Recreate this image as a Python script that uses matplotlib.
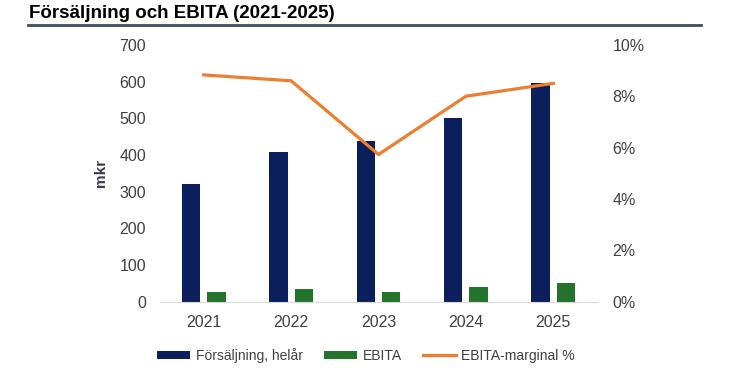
import matplotlib.pyplot as plt
import numpy as np
from matplotlib.lines import Line2D

plt.rcParams['font.family'] = ['Liberation Sans', 'DejaVu Sans']

years = ['2021', '2022', '2023', '2024', '2025']
forsaljning = [320, 409, 439, 500, 596]
ebita = [27, 34, 25, 40, 50]
marginal = [8.83, 8.6, 5.73, 8.0, 8.5]

navy = '#0a1f5c'
green = '#23732c'
orange = '#ed7d31'
txt = '#404040'

fig = plt.figure(figsize=(7.32, 3.77), dpi=100)
ax = fig.add_axes([0.2186, 0.2, 0.597, 0.681])
ax2 = ax.twinx()

x = np.arange(len(years))
w = 0.21
b1 = ax.bar(x - 0.145, forsaljning, w, color=navy, label='Försäljning, helår')
b2 = ax.bar(x + 0.145, ebita, w, color=green, label='EBITA')
ax2.plot(x, marginal, color=orange, lw=2.3, label='EBITA-marginal %')

ax.set_xlim(-0.5, 4.5)
ax.set_ylim(0, 700)
ax.set_yticks(range(0, 701, 100))
ax2.set_ylim(0, 10)
ax2.set_yticks(range(0, 11, 2))
ax2.set_yticklabels([f'{v}%' for v in range(0, 11, 2)])
ax.set_xticks(x)
ax.set_xticklabels(years)

for a in (ax, ax2):
    for s in a.spines.values():
        s.set_visible(False)
    a.tick_params(length=0, labelsize=11.5, colors=txt)
ax.spines['bottom'].set_visible(True)
ax.spines['bottom'].set_color('#d9d9d9')
ax.tick_params(axis='y', pad=10)
ax.tick_params(axis='x', pad=10)
ax2.tick_params(axis='y', pad=11)

ax.set_ylabel('mkr', fontsize=11, fontweight='bold', color='#333f50', labelpad=8)

fig.text(0.04, 0.965, 'Försäljning och EBITA (2021-2025)', fontsize=13.5,
         fontweight='bold', va='center', ha='left', color='black')
fig.add_artist(Line2D([0.038, 0.958], [0.933, 0.933], color='#3d4d59', lw=2))

handles = [b1, b2, Line2D([], [], color=orange, lw=2.3)]
labels = ['Försäljning, helår', 'EBITA', 'EBITA-marginal %']
fig.legend(handles, labels, loc='center', bbox_to_anchor=(0.5, 0.058), ncol=3,
           frameon=False, fontsize=10, handlelength=2.4, handleheight=0.5,
           columnspacing=1.5, handletextpad=0.4, labelcolor=txt)

fig.savefig('out.png', dpi=100)
